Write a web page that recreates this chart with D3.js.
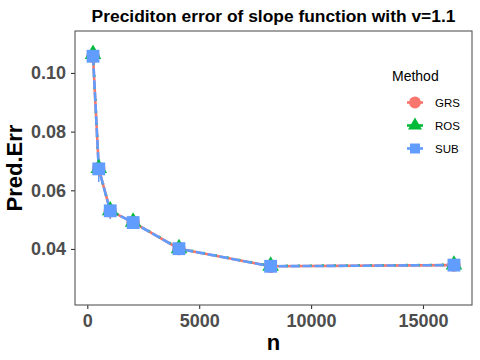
<!DOCTYPE html>
<html>
<head>
<meta charset="utf-8">
<script src="https://cdn.jsdelivr.net/npm/d3@7"></script>
<style>
  body { margin: 0; background: #fff; }
  text { font-family: "Liberation Sans", Arial, sans-serif; }
</style>
</head>
<body>
<div id="chart"></div>
<script>
// sample sizes
const nValues = [256, 512, 1024, 2048, 4096, 8192, 16384];

// prediction error per method
const grsErr = [0.1057, 0.0674, 0.0530, 0.0491, 0.0401, 0.0341, 0.0345];
const rosErr = [0.1064, 0.0675, 0.0531, 0.0492, 0.0402, 0.0342, 0.0346];
const subErr = [0.1057, 0.0673, 0.0530, 0.0490, 0.0401, 0.0341, 0.0345];

// small error bars visible below a couple of points
const errN = [512, 1024];
const errLow = [0.0628, 0.0502];
const errHigh = [0.0674, 0.0530];

const methods = ['GRS', 'ROS', 'SUB'];
const colors = ['#F8766D', '#00BA38', '#619CFF'];
const xTicks = [0, 5000, 10000, 15000];
const yTicks = [0.04, 0.06, 0.08, 0.10];

const width = 480, height = 360;
const margin = {top: 31, bottom: 305, left: 75, right: 472};

const svg = d3.select('#chart')
  .append('svg')
    .attr('width', width)
    .attr('height', height);

const x = d3.scaleLinear()
  .domain([-550, 17190])
  .range([margin.left, margin.right]);

const y = d3.scaleLinear()
  .domain([0.0209, 0.1143])
  .range([margin.bottom, margin.top]);

// title
svg.append('text')
  .attr('x', (margin.left + margin.right) / 2)
  .attr('y', 22)
  .attr('text-anchor', 'middle')
  .style('font-size', '17.4px')
  .style('font-weight', 'bold')
  .text('Preciditon error of slope function with v=1.1');

// axes
const xAxis = svg.append('g')
  .attr('transform', `translate(0, ${margin.bottom})`)
  .call(d3.axisBottom(x).tickValues(xTicks).tickSize(4).tickPadding(3).tickFormat(d3.format('d')));
const yAxis = svg.append('g')
  .attr('transform', `translate(${margin.left}, 0)`)
  .call(d3.axisLeft(y).tickValues(yTicks).tickSize(4).tickPadding(5).tickFormat(d3.format('.2f')));

[xAxis, yAxis].forEach(function(a) {
  a.select('.domain').remove();
  a.selectAll('line').attr('stroke', '#333').attr('stroke-width', 1.1);
  a.selectAll('text')
    .style('font-size', '18px')
    .style('font-weight', 'bold')
    .style('font-family', '"Liberation Sans", Arial, sans-serif')
    .attr('fill', '#4D4D4D');
});
xAxis.selectAll('text').attr('dy', '0.82em');

// panel border
svg.append('rect')
  .attr('x', margin.left)
  .attr('y', margin.top)
  .attr('width', margin.right - margin.left)
  .attr('height', margin.bottom - margin.top)
  .attr('fill', 'none')
  .attr('stroke', '#555')
  .attr('stroke-width', 1.1);

// axis titles
svg.append('text')
  .attr('x', (margin.left + margin.right) / 2)
  .attr('y', 350)
  .attr('text-anchor', 'middle')
  .style('font-size', '22px')
  .style('font-weight', 'bold')
  .text('n');

svg.append('text')
  .attr('transform', `translate(22, ${(margin.top + margin.bottom) / 2}) rotate(-90)`)
  .attr('text-anchor', 'middle')
  .style('font-size', '22px')
  .style('font-weight', 'bold')
  .text('Pred.Err');

const series = [grsErr, rosErr, subErr];
const line = d3.line()
  .x((d, i) => x(nValues[i]))
  .y(d => y(d));

// error bars
svg.append('g')
  .selectAll('line')
  .data(errN)
  .enter()
  .append('line')
  .attr('x1', d => x(d))
  .attr('x2', d => x(d))
  .attr('y1', (d, i) => y(errLow[i]))
  .attr('y2', (d, i) => y(errHigh[i]))
  .attr('stroke', colors[2])
  .attr('stroke-width', 1.5);

// lines: red underneath, green and blue dashed over it
const dashes = [null, '2,10', '9,3'];
const offsets = [0, -9, 0];
series.forEach(function(s, k) {
  svg.append('path')
    .datum(s)
    .attr('d', line)
    .attr('fill', 'none')
    .attr('stroke', colors[k])
    .attr('stroke-width', 2.6)
    .attr('stroke-dasharray', dashes[k])
    .attr('stroke-dashoffset', offsets[k]);
});

// point shapes
const shapes = [d3.symbolCircle, d3.symbolTriangle, d3.symbolSquare];
const sizes = [140, 120, 165];
series.forEach(function(s, k) {
  svg.append('g')
    .selectAll('path')
    .data(s)
    .enter()
    .append('path')
    .attr('transform', (d, i) => `translate(${x(nValues[i])}, ${y(d)})`)
    .attr('d', d3.symbol().type(shapes[k]).size(sizes[k]))
    .attr('fill', colors[k]);
});

// legend
const legend = svg.append('g').attr('transform', 'translate(392, 0)');
legend.append('text')
  .attr('x', 0)
  .attr('y', 81)
  .style('font-size', '14px')
  .text('Method');

const legendSizes = [110, 85, 100];
methods.forEach(function(m, k) {
  const ly = 102.5 + k * 23;
  legend.append('line')
    .attr('x1', 15).attr('x2', 31)
    .attr('y1', ly).attr('y2', ly)
    .attr('stroke', colors[k])
    .attr('stroke-width', 2.6);
  legend.append('path')
    .attr('transform', `translate(23, ${ly})`)
    .attr('d', d3.symbol().type(shapes[k]).size(legendSizes[k]))
    .attr('fill', colors[k]);
  legend.append('text')
    .attr('x', 43)
    .attr('y', ly + 4)
    .style('font-size', '11.5px')
    .text(m);
});
</script>
</body>
</html>
